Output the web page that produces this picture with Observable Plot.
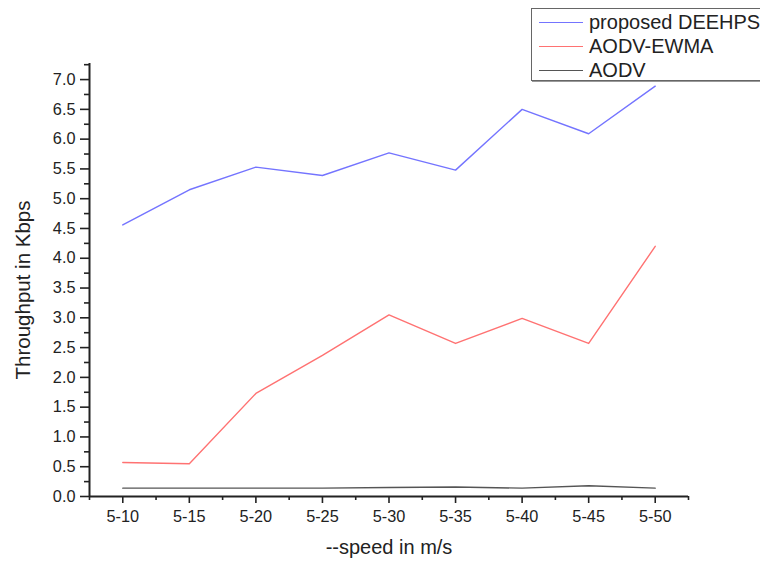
<!DOCTYPE html>
<html>
<head>
<meta charset="utf-8">
<script src="https://cdn.jsdelivr.net/npm/d3@7"></script>
<script src="https://cdn.jsdelivr.net/npm/@observablehq/plot@0.6"></script>
<style>
  html, body { margin: 0; padding: 0; background: #fff; }
  #wrap { position: relative; width: 760px; height: 562px; overflow: hidden; font-family: "Liberation Sans", Arial, sans-serif; }
  #legend { position: absolute; left: 531px; top: 8px; width: 240px; height: 73px; border: 1px solid #666; box-shadow: 1px 1px 0 #999; background: #fff; box-sizing: border-box; }
  .row { position: absolute; left: 0; height: 24px; display: flex; align-items: center; }
  .sw { display: inline-block; width: 44px; height: 1.5px; margin-left: 7px; margin-right: 6px; }
  .lbl { font-size: 20px; color: #222; white-space: nowrap; }
</style>
</head>
<body>
<div id="wrap"><div id="chart"></div><div id="legend"></div></div>
<script>
const categories = ["5-10", "5-15", "5-20", "5-25", "5-30", "5-35", "5-40", "5-45", "5-50"];
const seriesNames = ["proposed DEEHPS", "AODV-EWMA", "AODV"];
const seriesColors = ["#7474ff", "#ff7272", "#555555"];
const deehps = [4.56, 5.15, 5.53, 5.39, 5.77, 5.48, 6.50, 6.09, 6.89];
const ewma = [0.57, 0.55, 1.73, 2.37, 3.05, 2.57, 2.99, 2.57, 4.20];
const aodv = [0.14, 0.14, 0.14, 0.14, 0.15, 0.16, 0.14, 0.18, 0.14];
const yTicks = [0, 0.5, 1, 1.5, 2, 2.5, 3, 3.5, 4, 4.5, 5, 5.5, 6, 6.5, 7];
const yMinor = [0.25, 0.75, 1.25, 1.75, 2.25, 2.75, 3.25, 3.75, 4.25, 4.75, 5.25, 5.75, 6.25, 6.75, 7.25];
const yLabel = "Throughput in Kbps";
const xLabel = "--speed in m/s";

const seriesValues = [deehps, ewma, aodv];
const rows = [];
seriesValues.forEach((vals, s) => vals.forEach((v, i) => rows.push({idx: i + 1, value: v, series: seriesNames[s]})));
const xMajor = categories.map((c, i) => i + 1);
const xMinor = categories.map((c, i) => i + 0.5).concat([categories.length + 0.5]);
const yMax = 7.27;

const chart = Plot.plot({
  width: 760, height: 562,
  marginLeft: 89, marginRight: 72, marginTop: 63, marginBottom: 66,
  style: {fontFamily: "'Liberation Sans', Arial, sans-serif", fontSize: "16px", color: "#222", background: "white"},
  x: {type: "linear", domain: [0.5, categories.length + 0.5], label: null},
  y: {domain: [0, yMax], label: null},
  color: {domain: seriesNames, range: seriesColors},
  marks: [
    Plot.axisY(yTicks, {tickSize: 9, tickPadding: 5, tickFormat: d => d.toFixed(1), label: null, strokeWidth: 1.6, stroke: "#222", fill: "#222", fontSize: 16.3}),
    Plot.axisY(yMinor, {tickSize: 5, tickFormat: () => "", label: null, strokeWidth: 1.6, stroke: "#222"}),
    Plot.axisX(xMajor, {tickSize: 7, tickPadding: 7, tickFormat: i => categories[i - 1], label: null, strokeWidth: 1.6, stroke: "#222", fill: "#222", fontSize: 16.3}),
    Plot.axisX(xMinor, {tickSize: 4, tickFormat: () => "", label: null, strokeWidth: 1.6, stroke: "#222"}),
    Plot.ruleX([0.5], {y1: 0, y2: yMax, stroke: "#222", strokeWidth: 2}),
    Plot.ruleY([0], {x1: 0.5, x2: categories.length + 0.5, stroke: "#222", strokeWidth: 2}),
    Plot.line(rows, {x: "idx", y: "value", z: "series", stroke: "series", strokeWidth: 1.4}),
    Plot.text([yLabel], {frameAnchor: "left", textAnchor: "middle", lineAnchor: "middle", rotate: -90, dx: -66, dy: 10, fontSize: 20.5, fill: "#222"}),
    Plot.text([xLabel], {frameAnchor: "bottom", textAnchor: "middle", lineAnchor: "middle", dy: 51, fontSize: 20, fill: "#222"})
  ]
});
document.getElementById("chart").appendChild(chart);

const legend = document.getElementById("legend");
seriesNames.forEach((name, i) => {
  const row = document.createElement("div");
  row.className = "row";
  row.style.top = (1.5 + i * 24) + "px";
  const sw = document.createElement("span");
  sw.className = "sw";
  sw.style.backgroundColor = seriesColors[i];
  const lbl = document.createElement("span");
  lbl.className = "lbl";
  lbl.textContent = name;
  row.appendChild(sw);
  row.appendChild(lbl);
  legend.appendChild(row);
});
</script>
</body>
</html>
